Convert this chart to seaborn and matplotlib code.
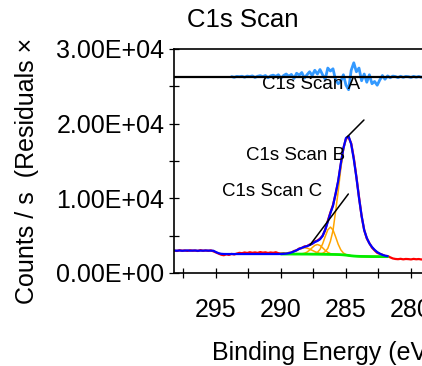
import numpy as np
import pandas as pd
import matplotlib
matplotlib.use("Agg")
import matplotlib.pyplot as plt
import seaborn as sns
from matplotlib.ticker import FuncFormatter, FixedLocator

# ---------------- data ----------------
energy = [298.2, 298.0, 297.8, 297.6, 297.4, 297.2, 297.0, 296.8, 296.6, 296.4,
          296.2, 296.0, 295.8, 295.6, 295.4, 295.2, 295.0, 294.8, 294.6, 294.4,
          294.2, 294.0, 293.8, 293.6, 293.4, 293.2, 293.0, 292.8, 292.6, 292.4,
          292.2, 292.0, 291.8, 291.6, 291.4, 291.2, 291.0, 290.8, 290.6, 290.4,
          290.2, 290.0, 289.8, 289.6, 289.4, 289.2, 289.0, 288.8, 288.6, 288.4,
          288.2, 288.0, 287.8, 287.6, 287.4, 287.2, 287.0, 286.8, 286.6, 286.4,
          286.2, 286.0, 285.8, 285.6, 285.4, 285.2, 285.0, 284.8, 284.6, 284.4,
          284.2, 284.0, 283.8, 283.6, 283.4, 283.2, 283.0, 282.8, 282.6, 282.4,
          282.2, 282.0, 281.8, 281.6, 281.4, 281.2, 281.0, 280.8, 280.6, 280.4,
          280.2, 280.0, 279.8, 279.6, 279.4, 279.2, 279.0, 278.8, 278.6, 278.4,
          278.2, 278.0]

data_counts = [3000, 2950, 3050, 2980, 3020, 2960, 3040, 2990, 3010, 2950,
               3060, 2980, 3020, 2970, 3030, 2900, 2750, 2600, 2450, 2380,
               2500, 2420, 2560, 2480, 2600, 2700, 2650, 2750, 2680, 2780,
               2700, 2760, 2690, 2800, 2720, 2770, 2680, 2750, 2700, 2780,
               2650, 2600, 2640, 2580, 2700, 2720, 2950, 3020, 3280, 3330,
               3560, 3580, 3810, 3900, 4220, 4340, 4600, 4990, 5760, 6980,
               8100, 9110, 10590, 12250, 14560, 16720, 17980, 18150, 17360, 15420,
               12880, 10190, 7610, 5770, 4620, 3990, 3390, 3030, 2700, 2560,
               2450, 2290, 2270, 2100, 1950, 1880, 1850, 1900, 1830, 1880,
               1860, 1820, 1890, 1840, 1870, 1810, 1860, 1830, 1880, 1820,
               1850, 1840]

envelope_counts = [3000, 2990, 3010, 2980, 3000, 3020, 2990, 3000, 3010, 2980,
                   3000, 2990, 3010, 3000, 2990, 2980, 2800, 2650, 2570, 2545,
                   2540, 2540, 2540, 2540, 2540, 2540, 2540, 2540, 2540, 2540,
                   2540, 2540, 2540, 2540, 2540, 2540, 2540, 2540, 2540, 2540,
                   2540, 2549, 2564, 2596, 2655, 2752, 2884, 3053, 3226, 3371,
                   3490, 3602, 3744, 3930, 4136, 4297, 4515, 4964, 5785, 6855,
                   8023, 9005, 10625, 12335, 14639, 16692, 18086, 18320, 17269, 15230,
                   12805, 10070, 7660, 5735, 4690, 3965, 3480, 3096, 2803, 2595,
                   2430, 2318, 2254]

comp_energy = [290.0, 289.8, 289.6, 289.4, 289.2, 289.0, 288.8, 288.6, 288.4, 288.2,
               288.0, 287.8, 287.6, 287.4, 287.2, 287.0, 286.8, 286.6, 286.4, 286.2,
               286.0, 285.8, 285.6, 285.4, 285.2, 285.0, 284.8, 284.6, 284.4, 284.2,
               284.0, 283.8, 283.6, 283.4, 283.2, 283.0, 282.8, 282.6, 282.4, 282.2,
               282.0, 281.8]

background = [2540, 2540, 2540, 2540, 2540, 2535, 2535, 2535, 2530, 2530,
              2530, 2525, 2520, 2520, 2515, 2510, 2505, 2500, 2495, 2490,
              2485, 2480, 2470, 2455, 2430, 2395, 2350, 2305, 2270, 2245,
              2230, 2220, 2215, 2210, 2205, 2200, 2200, 2195, 2195, 2190,
              2190, 2190]

comp_cc = [2540, 2540, 2540, 2540, 2540, 2535, 2535, 2535, 2530, 2530,
           2530, 2525, 2520, 2528, 2539, 2574, 2649, 2852, 3295, 4250,
           5685, 8240, 10950, 13991, 16446, 18011, 18302, 17265, 15230, 12805,
           10070, 7660, 5735, 4690, 3965, 3480, 3096, 2803, 2595, 2430,
           2318, 2254]

comp_co = [2540, 2540, 2540, 2540, 2540, 2535, 2535, 2535, 2530, 2530,
           2530, 2529, 2538, 2595, 2761, 3158, 3888, 4875, 5778, 6150,
           5768, 4855, 3853, 3103, 2676, 2470, 2368, 2309, 2270, 2245,
           2230, 2220, 2215, 2210, 2205, 2200, 2200, 2195, 2195, 2190,
           2190, 2190]

comp_c_o2 = [2540, 2540, 2540, 2540, 2540, 2535, 2537, 2545, 2567, 2640,
             2798, 3059, 3396, 3698, 3815, 3688, 3381, 3034, 2763, 2600,
             2522, 2490, 2472, 2455, 2430, 2395, 2350, 2305, 2270, 2245,
             2230, 2220, 2215, 2210, 2205, 2200, 2200, 2195, 2195, 2190,
             2190, 2190]

comp_cooh = [2549, 2564, 2596, 2655, 2752, 2884, 3051, 3216, 3334, 3380,
             3334, 3206, 3036, 2869, 2727, 2625, 2561, 2524, 2504, 2493,
             2485, 2480, 2470, 2455, 2430, 2395, 2350, 2305, 2270, 2245,
             2230, 2220, 2215, 2210, 2205, 2200, 2200, 2195, 2195, 2190,
             2190, 2190]

resid_energy = [293.8, 293.6, 293.4, 293.2, 293.0, 292.8, 292.6, 292.4, 292.2, 292.0,
                291.8, 291.6, 291.4, 291.2, 291.0, 290.8, 290.6, 290.4, 290.2, 290.0,
                289.8, 289.6, 289.4, 289.2, 289.0, 288.8, 288.6, 288.4, 288.2, 288.0,
                287.8, 287.6, 287.4, 287.2, 287.0, 286.8, 286.6, 286.4, 286.2, 286.0,
                285.8, 285.6, 285.4, 285.2, 285.0, 284.8, 284.6, 284.4, 284.2, 284.0,
                283.8, 283.6, 283.4, 283.2, 283.0, 282.8, 282.6, 282.4, 282.2, 282.0,
                281.8, 281.6, 281.4, 281.2, 281.0, 280.8, 280.6, 280.4, 280.2, 280.0,
                279.8, 279.6, 279.4, 279.2, 279.0, 278.8, 278.6, 278.4]

residuals = [60, -40, 80, 40, 100, -30, 120, 60, 150, -60,
             100, 180, 50, 200, -100, 150, 250, 80, 300, -150,
             200, 400, 100, 350, -200, 500, 250, 600, -150, 300,
             700, 200, 900, 400, 1000, 300, -300, 1200, 800, 1100,
             -400, -900, -600, 300, -1100, -1700, 900, 1900, 700, 1200,
             -500, 400, -700, 300, -900, -600, -1100, -400, 200, -300,
             150, -100, 120, 60, -80, 100, -50, 80, 40, -60,
             90, -30, 70, -40, 50, -20, 60, 30]
residual_zero = 26250

y_major = [0, 10000, 20000, 30000]
y_minor = [5000, 15000, 25000]
x_major = [280, 285, 290, 295]
x_minor = [282.5, 287.5, 292.5, 297.5]

labels = ["C1s Scan A", "C1s Scan B", "C1s Scan C"]
label_energy = [287.65, 288.85, 290.72]
label_counts = [25180, 15740, 10980]
leader_b_energy = [284.92, 283.62]
leader_b_counts = [18210, 20490]
leader_c_energy = [287.77, 284.82]
leader_c_counts = [3750, 10580]

# ---------------- style ----------------
sns.set_style("ticks")
plt.rcParams['font.family'] = ['Liberation Sans', 'DejaVu Sans']
plt.rcParams['text.color'] = 'black'
plt.rcParams['axes.labelcolor'] = 'black'
plt.rcParams['xtick.color'] = 'black'
plt.rcParams['ytick.color'] = 'black'

fig = plt.figure(figsize=(4.22, 3.66), dpi=100)
ax = fig.add_axes([174 / 422, 1 - 273 / 366, (437 - 174) / 422, 224 / 366])

n_env = len(envelope_counts)
sns.lineplot(x=energy, y=data_counts, ax=ax, color="#FF0000", lw=1.6,
             estimator=None, sort=False)
for comp in (comp_cc, comp_co, comp_c_o2, comp_cooh):
    sns.lineplot(x=comp_energy, y=comp, ax=ax, color="#FFA500", lw=1.1,
                 estimator=None, sort=False)
sns.lineplot(x=comp_energy, y=background, ax=ax, color="#00EE00", lw=2.0,
             estimator=None, sort=False)
sns.lineplot(x=energy[:n_env], y=envelope_counts, ax=ax, color="#0000FF", lw=1.6,
             estimator=None, sort=False)

resid_plot = [residual_zero + r for r in residuals]
sns.lineplot(x=resid_energy, y=resid_plot, ax=ax, color="#3399FF", lw=2.0,
             estimator=None, sort=False)
ax.axhline(residual_zero, color="black", lw=1.6)

ax.plot(leader_b_energy, leader_b_counts, color="black", lw=1.1)
ax.plot(leader_c_energy, leader_c_counts, color="black", lw=1.1)
for t, xe, yc in zip(labels, label_energy, label_counts):
    ax.text(xe, yc, t, ha="center", va="center", fontsize=13.5, color="black")

ax.set_xlim(298.23, 278.0)
ax.set_ylim(0, 30000)
ax.xaxis.set_major_locator(FixedLocator(x_major))
ax.xaxis.set_minor_locator(FixedLocator(x_minor))
ax.yaxis.set_major_locator(FixedLocator(y_major))
ax.yaxis.set_minor_locator(FixedLocator(y_minor))
ax.xaxis.set_major_formatter(FuncFormatter(lambda v, p: f"{v:.0f}"))
ax.yaxis.set_major_formatter(FuncFormatter(lambda v, p: f"{v:.2E}"))
ax.tick_params(axis="both", which="both", direction="inout", length=7,
               width=0.9, color="black", labelcolor="black")
ax.tick_params(axis="x", which="major", labelsize=18, pad=14.5)
ax.tick_params(axis="y", which="major", labelsize=18, pad=3.5)
for s in ax.spines.values():
    s.set_linewidth(1.2)
    s.set_color("black")
ax.set_xlabel("")
ax.set_ylabel("")

fig.text(243 / 422, 1 - 20 / 366, "C1s Scan", ha="center", va="center",
         fontsize=18.5, color="black")
fig.text(212 / 422, 6 / 366, "Binding Energy (eV)", ha="left", va="baseline",
         fontsize=18, color="black")
fig.text(27.5 / 422, 1 - 38 / 366, "Counts / s  (Residuals \u00d7", rotation=90,
         ha="center", va="top", fontsize=18, color="black")

fig.savefig("out.png", dpi=100)
